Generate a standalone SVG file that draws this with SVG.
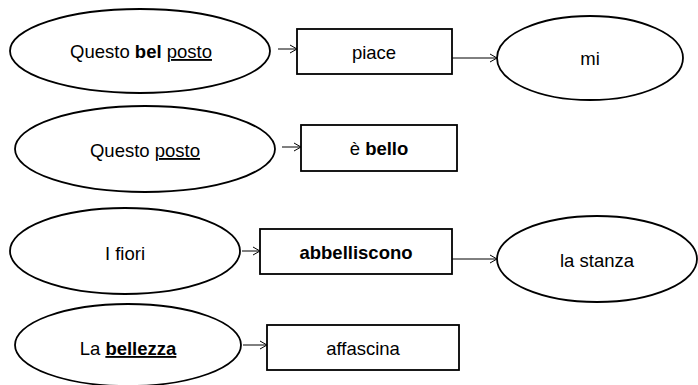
<svg xmlns="http://www.w3.org/2000/svg" width="698" height="385" viewBox="0 0 698 385">
<style>
.n{fill:#fff;stroke:#000;stroke-width:1.8}
.t{font-family:"Liberation Sans",Arial,sans-serif;font-size:18.5px;fill:#000;text-anchor:middle}
.b{font-weight:bold}
.u{text-decoration:underline}
.c{stroke:#000;stroke-width:1;fill:none;marker-end:url(#a)}
</style>
<defs>
<marker id="a" markerWidth="9" markerHeight="10" refX="8" refY="5" orient="auto" markerUnits="userSpaceOnUse">
<path d="M1,1 L8,5 L1,9" fill="none" stroke="#000" stroke-width="1"/>
</marker>
</defs>
<rect width="698" height="385" fill="#fff"/>
<g id="connectors">
<line class="c" x1="278" y1="49" x2="297" y2="49"/>
<line class="c" x1="452" y1="58" x2="497" y2="58"/>
<line class="c" x1="282" y1="147" x2="301" y2="147"/>
<line class="c" x1="242" y1="251" x2="260" y2="251"/>
<line class="c" x1="452" y1="259" x2="497" y2="259"/>
<line class="c" x1="243" y1="345" x2="267" y2="345"/>
</g>
<g id="n1"><ellipse class="n" cx="140" cy="51" rx="130" ry="42"/><text class="t" x="141" y="58">Questo <tspan class="b">bel</tspan> <tspan class="u">posto</tspan></text></g>
<g id="n2"><rect class="n" x="297" y="29" width="155" height="45"/><text class="t" x="374" y="59">piace</text></g>
<g id="n3"><ellipse class="n" cx="590" cy="58" rx="93" ry="42"/><text class="t" x="590" y="65">mi</text></g>
<g id="n4"><ellipse class="n" cx="145" cy="149" rx="130" ry="43"/><text class="t" x="145" y="157">Questo <tspan class="u">posto</tspan></text></g>
<g id="n5"><rect class="n" x="301" y="125" width="156" height="46"/><text class="t" x="379" y="155">è <tspan class="b">bello</tspan></text></g>
<g id="n6"><ellipse class="n" cx="125" cy="251" rx="115" ry="43"/><text class="t" x="125" y="260">I fiori</text></g>
<g id="n7"><rect class="n" x="260" y="229" width="192" height="45"/><text class="t b" x="356" y="259">abbelliscono</text></g>
<g id="n8"><ellipse class="n" cx="597" cy="259" rx="100" ry="43"/><text class="t" x="597" y="267">la stanza</text></g>
<g id="n9"><ellipse class="n" cx="128" cy="345" rx="113" ry="41"/><text class="t" x="128" y="355">La <tspan class="b u">bellezza</tspan></text></g>
<g id="n10"><rect class="n" x="267" y="325" width="192" height="45"/><text class="t" x="363" y="355">affascina</text></g>
</svg>
